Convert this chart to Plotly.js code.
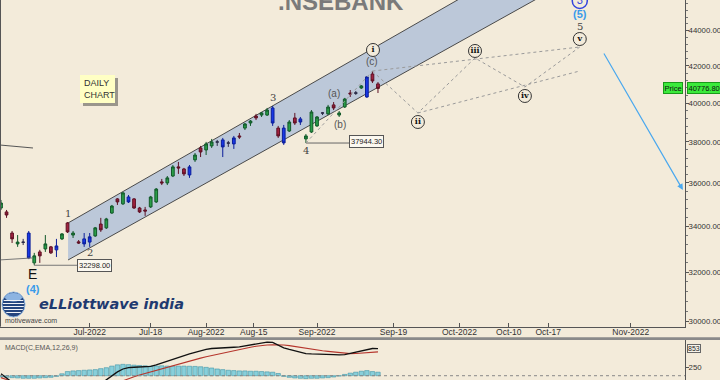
<!DOCTYPE html>
<html><head><meta charset="utf-8">
<script src="https://cdn.plot.ly/plotly-3.0.1.min.js"></script>
<style>html,body{margin:0;padding:0;background:#F3EBDA;}#chart{width:720px;height:380px;}</style>
</head><body><div id="chart"></div>
<script>
// ---------- DATA ----------
const dates = ['2022-06-09','2022-06-10','2022-06-13','2022-06-14','2022-06-15','2022-06-16','2022-06-17','2022-06-20','2022-06-21','2022-06-22','2022-06-23','2022-06-24','2022-06-27','2022-06-28','2022-06-29','2022-06-30','2022-07-01','2022-07-04','2022-07-05','2022-07-06','2022-07-07','2022-07-08','2022-07-11','2022-07-12','2022-07-13','2022-07-14','2022-07-15','2022-07-18','2022-07-19','2022-07-20','2022-07-21','2022-07-22','2022-07-25','2022-07-26','2022-07-27','2022-07-28','2022-07-29','2022-08-01','2022-08-02','2022-08-03','2022-08-04','2022-08-05','2022-08-08','2022-08-10','2022-08-11','2022-08-12','2022-08-16','2022-08-17','2022-08-18','2022-08-19','2022-08-22','2022-08-23','2022-08-24','2022-08-25','2022-08-26','2022-08-29','2022-08-30','2022-09-01','2022-09-02','2022-09-05','2022-09-06','2022-09-07','2022-09-08','2022-09-09','2022-09-12','2022-09-13','2022-09-14','2022-09-15','2022-09-16'];
const open  = [34830,34650,33700,33220,33300,33700,32400,32870,33000,33090,32960,33440,34150,33610,33310,33440,33300,33570,34100,33930,34600,35250,35020,35340,35250,34830,34740,34880,35110,36050,36000,36330,36770,36670,36380,37110,37700,37600,37800,37990,38100,37950,37900,38300,38700,38960,39320,39370,39370,39740,38700,38700,38550,39220,39170,38150,38500,38810,39470,39430,39900,39370,39790,40530,40540,40800,40320,41560,41020];
const high  = [35200,34740,33790,33610,33440,33790,32830,32960,33610,33130,33440,33700,34190,33790,33390,33700,33700,33970,34380,34380,34970,35290,35570,35430,35290,34880,34880,35390,35760,36190,36330,36860,37010,36720,36860,37450,37800,38000,38150,38100,38200,38050,38300,38450,38960,39110,39430,39530,39740,39840,38810,38860,39110,39480,39270,38400,39630,39320,39530,39900,40050,39580,40270,40690,40640,40960,41450,41720,41120];
const low   = [34740,34380,33260,33090,33170,32560,32298,32400,32870,32780,32650,33390,33700,33480,33220,33090,33090,33530,33750,33880,34560,34970,34970,35060,34790,34600,34470,34830,35060,35900,35900,36280,36430,36330,36240,37010,37250,37350,37700,37800,37250,37750,37650,38150,38600,38810,39110,39270,39320,38810,38200,37850,38500,38860,38860,37944.3,38450,38760,39370,39370,39630,39270,39740,40320,40430,40750,40270,41070,40530];
const close = [35060,34510,33440,33300,33290,32610,32700,32700,33220,32830,33130,33660,33750,33700,33260,33220,33530,33930,33840,34330,34920,35110,35530,35110,34830,34650,34690,35340,35710,36000,36240,36770,36720,36430,36770,37350,37500,37900,38000,38000,37750,37940,38200,38250,38910,39060,39220,39480,39630,38960,38300,37950,39010,38960,39010,38300,39530,39270,39480,39790,39740,39480,40210,40480,40520,40910,41400,41180,40776.8];
const candleClass = ['g','r','r','g','k','b','g','r','g','r','b','g','r','g','r','b','b','g','r','g','g','r','g','b','r','r','r','g','g','r','g','g','r','r','b','g','r','g','g','k','b','k','b','r','g','g','r','g','g','b','r','b','g','r','b','g','g','g','k','g','r','g','g','r','k','g','b','r','r'];
const macd   = [60,-100,-250,-380,-480,-600,-700,-760,-780,-790,-770,-740,-680,-620,-560,-500,-420,-330,-230,-130,0,120,210,250,265,270,275,290,340,400,460,520,570,620,680,730,780,820,850,865,875,880,890,900,930,960,1000,1030,1050,1040,960,870,820,780,730,690,680,680,680,670,660,650,660,700,740,790,830,850,845];
const signal = [-60,-110,-180,-260,-340,-420,-500,-570,-630,-680,-700,-710,-700,-680,-650,-610,-570,-520,-460,-400,-330,-250,-160,-90,-30,20,70,120,170,215,255,300,350,400,450,500,550,590,630,670,710,750,790,830,860,890,920,945,960,965,965,960,940,910,880,850,820,800,780,760,740,720,700,690,695,705,725,740,745];
const hist   = [-40,-50,-60,-70,-80,-80,-80,-70,-60,-50,-20,60,130,150,160,170,180,190,220,250,300,340,355,345,330,320,310,300,305,310,300,295,300,300,295,290,280,260,240,210,190,170,160,150,150,140,140,130,120,110,70,-20,-50,-70,-80,-90,-80,-80,-70,-60,-40,-10,40,80,110,140,160,130,110];
const priceTicks = [30000,32000,34000,36000,38000,40000,42000,44000];
const priceTickText = ['30000.00','32000.00','34000.00','36000.00','38000.00','40000.00','42000.00','44000.00'];
const dateTickPos  = [16,27,37,45.6,57,70.8,82.7,91.6,98.7,113.6];
const dateTickText = ['Jul-2022','Jul-18','Aug-2022','Aug-15','Sep-2022','Sep-19','Oct-2022','Oct-10','Oct-17','Nov-2022'];
const lastPrice = 40776.80, macdLast = 853;
const lowE = 32298.00, low4 = 37944.30;
// channel (bar index, price)
const chanX = [12.1, 108];
const chanUpper = [34149, 51010];
const chanLower = [32524, 48056];
// projected Elliott path i-ii-iii-iv-v
const projX = [67, 75.2, 85.5, 94.5, 104.4];
const projY = [41720, 39477, 42446, 40853, 43065];
const projUpperX = [67, 104.4], projUpperY = [41720, 43065];
const projLowerX = [75.2, 104.4], projLowerY = [39477, 41724];
const legX = [55, 67], legY = [37944.3, 41720];
const circX = [67.1, 75.2, 85.5, 94.5, 104.4];
const circY = [42895, 39011, 42840, 40372, 43521];
const circText = ['i','ii','iii','iv','v'];
const trendA = {x:[-2, 5.77], y:[37890, 37697]};
const trendB = {x:[-2, 5.6], y:[32500, 32609]};
const arrowFrom = [108.6, 42782], arrowTo = [123.0, 35667];

// ---------- BUILD ----------
const BG = '#F3EBDA';
const xi = dates.map((d,i)=>i);
const L = Math.log10;
const W = 685, H = 380;
const px = v => v/W, py = v => 1 - v/H;
const FONT = 'Liberation Sans, Arial, sans-serif';

const styles = {
  g:{fill:'#2A9E48', line:'#12592A'},
  r:{fill:'#A1223F', line:'#5E1024'},
  b:{fill:'#1838E6', line:'#0B1E9A'},
  k:{fill:'#2B2B48', line:'#2B2B48'}
};
const traces = [];
// trend lines on left
traces.push({type:'scatter', mode:'lines', x:trendA.x, y:trendA.y, line:{color:'#555', width:1}});
traces.push({type:'scatter', mode:'lines', x:trendB.x, y:trendB.y, line:{color:'#777', width:1}});
// connectors to value boxes
traces.push({type:'scatter', mode:'lines', x:[6, 14.1], y:[lowE, lowE], line:{color:'#777', width:1}});
traces.push({type:'scatter', mode:'lines', x:[55, 63.4], y:[low4, low4], line:{color:'#666', width:1}});
// projections
const dotted = {color:'#9A9A9A', width:1, dash:'dot'};
traces.push({type:'scatter', mode:'lines', x:projX, y:projY, line:dotted});
traces.push({type:'scatter', mode:'lines', x:projUpperX, y:projUpperY, line:dotted});
traces.push({type:'scatter', mode:'lines', x:projLowerX, y:projLowerY, line:dotted});
traces.push({type:'scatter', mode:'lines', x:legX, y:legY, line:dotted});
// candles
Object.keys(styles).forEach(k=>{
  const id = xi.filter(i=>candleClass[i]===k);
  const s = styles[k];
  traces.push({type:'candlestick', x:id, open:id.map(i=>open[i]), high:id.map(i=>high[i]),
    low:id.map(i=>low[i]), close:id.map(i=>close[i]), whiskerwidth:0,
    increasing:{fillcolor:s.fill, line:{color:s.line, width:1}},
    decreasing:{fillcolor:s.fill, line:{color:s.line, width:1}}, hoverinfo:'skip'});
});
// circled wave labels
traces.push({type:'scatter', mode:'markers+text', x:circX, y:circY, text:circText,
  marker:{size:13, color:BG, line:{color:'#333', width:1}},
  textfont:{family:'DejaVu Serif, serif', size:8, color:'#111', weight:'bold'}, textposition:'middle center'});
traces.push({type:'scatter', mode:'markers+text', x:[104.4], y:[45761], text:['3'],
  marker:{size:15, color:BG, line:{color:'#3344DD', width:1.5}},
  textfont:{family:FONT, size:11, color:'#3344DD'}, textposition:'middle center'});
// MACD
traces.push({type:'bar', x:xi, y:hist, yaxis:'y2', marker:{color:'#88CFDA', line:{color:'#3F96A8', width:0.6}}});
traces.push({type:'scatter', mode:'lines', x:xi, y:signal, yaxis:'y2', line:{color:'#B5352C', width:1.1}});
traces.push({type:'scatter', mode:'lines', x:xi, y:macd, yaxis:'y2', line:{color:'#111', width:1.3}});

const ann = [];
const lab = (t, x, y, o) => ann.push(Object.assign({text:t, x:x, y:L(y), xref:'x', yref:'y', showarrow:false,
  xanchor:'center', yanchor:'middle', font:{family:'DejaVu Serif, serif', size:10, color:'#444'}}, o||{}));
lab('1', 12.1, 34557); lab('2', 16.05, 32825); lab('3', 49.06, 40318); lab('4', 55.0, 37548);
lab('5', 104.4, 44273);
const sans = {family:FONT, size:10, color:'#555'};
lab('(a)', 60.07, 40479, {font:sans}); lab('(b)', 61.15, 38908, {font:sans}); lab('(c)', 66.9, 42277, {font:sans});
lab('E', 5.77, 31930, {font:{family:FONT, size:14, color:'#111'}});
lab('<b>(4)</b>', 5.77, 31304, {font:{family:FONT, size:11, color:'#3A9BEA'}});
lab('<b>(5)</b>', 104.4, 44979, {font:{family:FONT, size:11, color:'#3A9BEA'}});
// value boxes
const boxFont = {family:FONT, size:7.5, color:'#222'};
ann.push({text:'32298.00', x:16.9, y:L(lowE), xref:'x', yref:'y', yanchor:'middle', showarrow:false, font:boxFont, bgcolor:'#FBF8F0', bordercolor:'#555', borderwidth:1, borderpad:1});
ann.push({text:'37944.30', x:66.0, y:L(37997), xref:'x', yref:'y', yanchor:'middle', showarrow:false, font:boxFont, bgcolor:'#FBF8F0', bordercolor:'#555', borderwidth:1, borderpad:1});
// price markers
ann.push({text:'Price', x:px(683), xanchor:'right', yanchor:'middle', y:L(lastPrice), xref:'paper', yref:'y', showarrow:false, font:{family:FONT,size:7.5,color:'#111'}, bgcolor:'#3BEA3B', bordercolor:'#1A9A1A', borderwidth:1, borderpad:0.5});
ann.push({text:'40776.80', x:px(687), xanchor:'left', yanchor:'middle', y:L(lastPrice), xref:'paper', yref:'y', showarrow:false, font:{family:FONT,size:7.5,color:'#111'}, bgcolor:'#3BEA3B', bordercolor:'#1A9A1A', borderwidth:1, borderpad:0.5});
ann.push({text:String(macdLast), x:px(687), xanchor:'left', yanchor:'middle', y:macdLast, xref:'paper', yref:'y2', showarrow:false, font:{family:FONT,size:7,color:'#222'}, bgcolor:'#F8F4EA', bordercolor:'#666', borderwidth:1, borderpad:0});
// arrow
ann.push({text:'', x:arrowTo[0], y:L(arrowTo[1]), ax:arrowFrom[0], ay:L(arrowFrom[1]), xref:'x', yref:'y', axref:'x', ayref:'y',
  showarrow:true, arrowhead:2, arrowsize:1, arrowwidth:1.2, arrowcolor:'#4AA8EE', standoff:0, startstandoff:0});
// title, notes, logo
const note = (t, x, y, xa, f) => ann.push({text:t, x:px(x), y:py(y), xref:'paper', yref:'paper', xanchor:xa, yanchor:'middle', align:'left', showarrow:false, font:f});
note('<b>.NSEBANK</b>', 341, 1, 'center', {family:FONT, size:24, color:'#7A7A7A'});
note('DAILY<br>CHART', 82, 89, 'left', {family:FONT, size:9, color:'#333'});
note('<b><i>eLLiottwave india</i></b>', 37, 303.5, 'left', {family:'DejaVu Sans, sans-serif', size:14.5, color:'#1F3A70'});
note('motivewave.com', 3, 320, 'left', {family:FONT, size:7, color:'#444'});
note('MACD(C,EMA,12,26,9)', 3, 347.5, 'left', {family:FONT, size:7, color:'#555'});

const shapes = [];
// channel (below candles) — shape coordinates on a log axis are given in data units
const chPath = 'M' + chanX[0] + ',' + chanUpper[0] + ' L' + chanX[1] + ',' + chanUpper[1] +
  ' L' + chanX[1] + ',' + chanLower[1] + ' L' + chanX[0] + ',' + chanLower[0] + ' Z';
shapes.push({type:'path', path:chPath, xref:'x', yref:'y', layer:'below', fillcolor:'#BCC8D9', line:{width:0}});
shapes.push({type:'line', xref:'x', yref:'y', layer:'below', x0:chanX[0], x1:chanX[1], y0:chanUpper[0], y1:chanUpper[1], line:{color:'#4A4A4A', width:1}});
shapes.push({type:'line', xref:'x', yref:'y', layer:'below', x0:chanX[0], x1:chanX[1], y0:chanLower[0], y1:chanLower[1], line:{color:'#4A4A4A', width:1}});
// DAILY CHART box
shapes.push({type:'rect', xref:'paper', yref:'paper', x0:px(83), x1:px(118), y0:py(106), y1:py(78), fillcolor:'#9A968C', line:{width:0}});
shapes.push({type:'rect', xref:'paper', yref:'paper', x0:px(80), x1:px(115), y0:py(103), y1:py(75), fillcolor:'#FFFFC4', line:{width:0}});
// left border
shapes.push({type:'line', xref:'paper', yref:'paper', x0:px(0.5), x1:px(0.5), y0:py(326.7), y1:1, line:{color:'#555', width:1}});
// separator between panels
shapes.push({type:'rect', xref:'paper', yref:'paper', x0:0, x1:720/W, y0:py(340), y1:py(337.3), fillcolor:'#8A8A8A', line:{width:0}});
// macd zero line
shapes.push({type:'line', xref:'paper', yref:'y2', x0:0, x1:1, y0:0, y1:0, line:{color:'#888', width:1, dash:'dot'}});
// globe logo
const gcx = 13.5, gcy = 304.5, gr = 11.5;
shapes.push({type:'circle', xref:'paper', yref:'paper', x0:px(gcx-gr), x1:px(gcx+gr), y0:py(gcy+gr+1), y1:py(gcy-gr-1), fillcolor:'#24457E', line:{color:'#8FB5E0', width:1}});
shapes.push({type:'circle', xref:'paper', yref:'paper', x0:px(gcx-gr+3), x1:px(gcx+gr-3), y0:py(gcy-3), y1:py(gcy-gr), fillcolor:'#8DB4E2', line:{width:0}});
[-4,-1,2,5,8].forEach(d=>{
  const hw = Math.sqrt(Math.max(0, gr*gr - d*d)) - 1;
  shapes.push({type:'line', xref:'paper', yref:'paper', x0:px(gcx-hw), x1:px(gcx+hw), y0:py(gcy+d), y1:py(gcy+d), line:{color:'#F2F4F8', width:1}});
});

const layout = {
  width:720, height:380, margin:{l:0, r:35, t:0, b:0},
  paper_bgcolor:BG, plot_bgcolor:BG, showlegend:false, hovermode:false, bargap:0.2,
  font:{family:FONT, size:8, color:'#333'},
  xaxis:{range:[-0.18, 123.38], anchor:'y', rangeslider:{visible:false}, showgrid:false, zeroline:false,
    tickvals:dateTickPos, ticktext:dateTickText, ticks:'inside', ticklen:4, tickcolor:'#555', ticklabelstandoff:-3,
    showline:true, linecolor:'#555', linewidth:1, tickfont:{family:FONT, size:8.5, color:'#333'}, fixedrange:true},
  yaxis:{type:'log', range:[L(29785), L(45817)], domain:[1-326.7/380, 1], side:'right', anchor:'x',
    showgrid:false, zeroline:false, tickvals:priceTicks, ticktext:priceTickText, ticks:'outside', ticklen:3,
    ticklabelstandoff:-2,
    tickcolor:'#555', showline:true, linecolor:'#555', linewidth:1, tickfont:{family:FONT, size:7.8, color:'#333'},
    minor:{tickmode:'array', tickvals:[30400,30800,31200,31600,32400,32800,33200,33600,34400,34800,35200,35600,36400,36800,37200,37600,38400,38800,39200,39600,40400,40800,41200,41600,42400,42800,43200,43600,44400,44800,45200,45600], ticks:'outside', ticklen:2, tickcolor:'#777'},
    fixedrange:true},
  yaxis2:{range:[-134, 1116], domain:[0, 40/380], side:'right', anchor:'x', showgrid:false, zeroline:false,
    tickvals:[250], ticktext:['250'], ticks:'outside', ticklen:3, ticklabelstandoff:-2, tickcolor:'#555', showline:true, linecolor:'#555',
    tickfont:{family:FONT, size:7.8, color:'#333'}, fixedrange:true},
  annotations:ann, shapes:shapes
};
Plotly.newPlot('chart', traces, layout, {staticPlot:true, displayModeBar:false});
</script>
</body></html>
